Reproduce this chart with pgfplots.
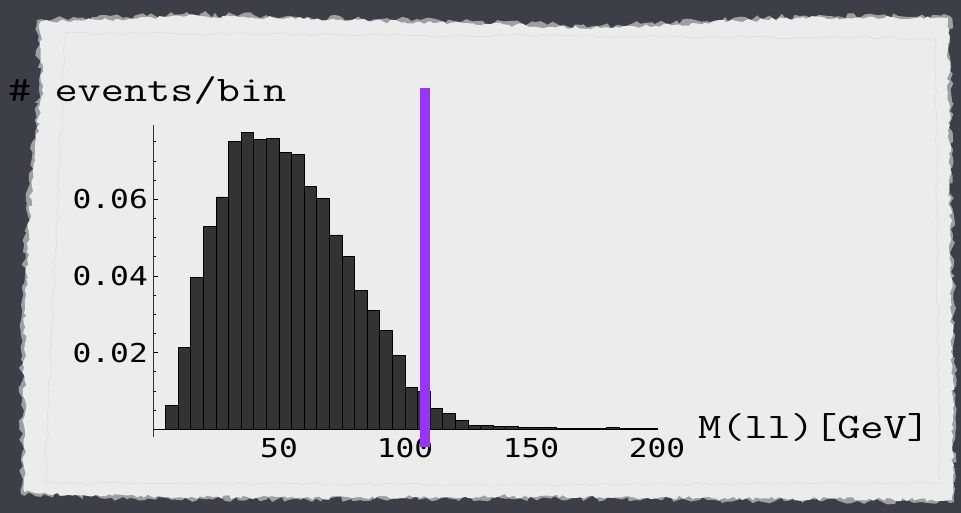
\documentclass[border=0pt]{standalone}
\usepackage{pgfplots}
\pgfplotsset{compat=1.18}
\usepackage{graphicx}
\usepackage{fontspec}
\newfontfamily\tickfont[FakeStretch=1.2]{DejaVu Sans Mono}
\usetikzlibrary{decorations.pathmorphing}
\definecolor{bgdark}{RGB}{60,62,72}
\definecolor{paper}{RGB}{236,236,236}
\definecolor{barfill}{RGB}{51,51,51}
\definecolor{cutline}{RGB}{153,51,255}
\newcommand{\courtext}[1]{\scalebox{1.25}[1]{\ttfamily\fontsize{36}{40}\selectfont #1}}

\begin{document}
\begin{tikzpicture}[x=1pt,y=1pt]
\useasboundingbox (0,0) rectangle (961,513);
\fill[bgdark] (0,0) rectangle (961,513);
\pgfmathsetseed{7}
\fill[gray!75, decorate, decoration={random steps, segment length=5pt, amplitude=3pt}]
  (37,493) -- (200,499) -- (420,493) -- (600,487) -- (800,497) -- (950,497)
  -- (952,313) -- (955,113) -- (954,11) -- (700,13) -- (500,15) -- (300,13)
  -- (100,15) -- (21,19) -- (22,213) -- (29,333) -- (39,423) -- cycle;
\fill[paper, decorate, decoration={random steps, segment length=4pt, amplitude=2pt}]
  (40,491) -- (200,497) -- (420,491) -- (600,485) -- (800,495) -- (948,495)
  -- (950,313) -- (953,113) -- (952,13) -- (700,15) -- (500,17) -- (300,15)
  -- (100,17) -- (24,21) -- (25,213) -- (32,333) -- (42,423) -- cycle;
\draw[gray!28, line width=0.5pt, decorate, decoration={random steps, segment length=6pt, amplitude=1.5pt}]
  (65,480) -- (400,478) -- (935,475) -- (940,30) -- (500,28) -- (45,30) -- cycle;

\node[anchor=base west, inner sep=0pt] at (8,411.3) {\courtext{\# events/bin}};
\node[anchor=base west, inner sep=0pt] at (698,74.7) {\courtext{M(ll)[GeV]}};

\begin{axis}[
  at={(153pt,75.9pt)}, anchor=south west,
  scale only axis, width=504pt, height=312.2pt,
  xmin=0, xmax=200, ymin=-0.002, ymax=0.0794,
  axis lines=middle,
  axis line style={-},
  x axis line style={black, line width=1.8pt},
  y axis line style={black!80, line width=1pt},
  clip=false,
  xtick={50,100,150,200},
  ytick={0.02,0.04,0.06},
  minor ytick={0.005,0.01,0.015,0.025,0.03,0.035,0.045,0.05,0.055,0.065,0.07,0.075},
  tick align=inside,
  major tick length=5pt, minor tick length=3pt,
  tick style={black, line width=0.8pt},
  every x tick/.append style={draw=none},
  scaled y ticks=false,
  /pgf/number format/assume math mode=true,
  ticklabel style={font=\tickfont\fontsize{26}{28}\selectfont},
  yticklabel style={/pgf/number format/.cd, fixed, fixed zerofill, precision=2, /tikz/.cd, anchor=east, inner sep=0pt, xshift=-5pt},
  xticklabel style={anchor=north, inner sep=0pt, yshift=-9pt},
]
\addplot[ybar, bar width=5, bar shift=0pt, fill=barfill, draw=black, line width=0.8pt] coordinates {
(7.5,0.00635) (12.5,0.0213) (17.5,0.0396) (22.5,0.0529) (27.5,0.0606)
(32.5,0.0750) (37.5,0.0774) (42.5,0.0757) (47.5,0.0758) (52.5,0.0723)
(57.5,0.0716) (62.5,0.0633) (67.5,0.0602) (72.5,0.0507) (77.5,0.0452)
(82.5,0.0363) (87.5,0.0311) (92.5,0.0257) (97.5,0.0192) (102.5,0.0109)
(107.5,0.0098) (112.5,0.0055) (117.5,0.0042) (122.5,0.0023) (127.5,0.0011)
(132.5,0.0011) (137.5,0.0007) (142.5,0.0007) (147.5,0.0005) (152.5,0.0005)
(157.5,0.0005) (162.5,0.0003) (167.5,0.0003) (172.5,0.0002) (177.5,0.0003)
(182.5,0.0004) (187.5,0.0003) (192.5,0.0002) (197.5,0.0002)
};
\addplot[cutline, line width=10.5pt] coordinates {(108,-0.0046) (108,0.089)};
\end{axis}
\end{tikzpicture}
\end{document}
